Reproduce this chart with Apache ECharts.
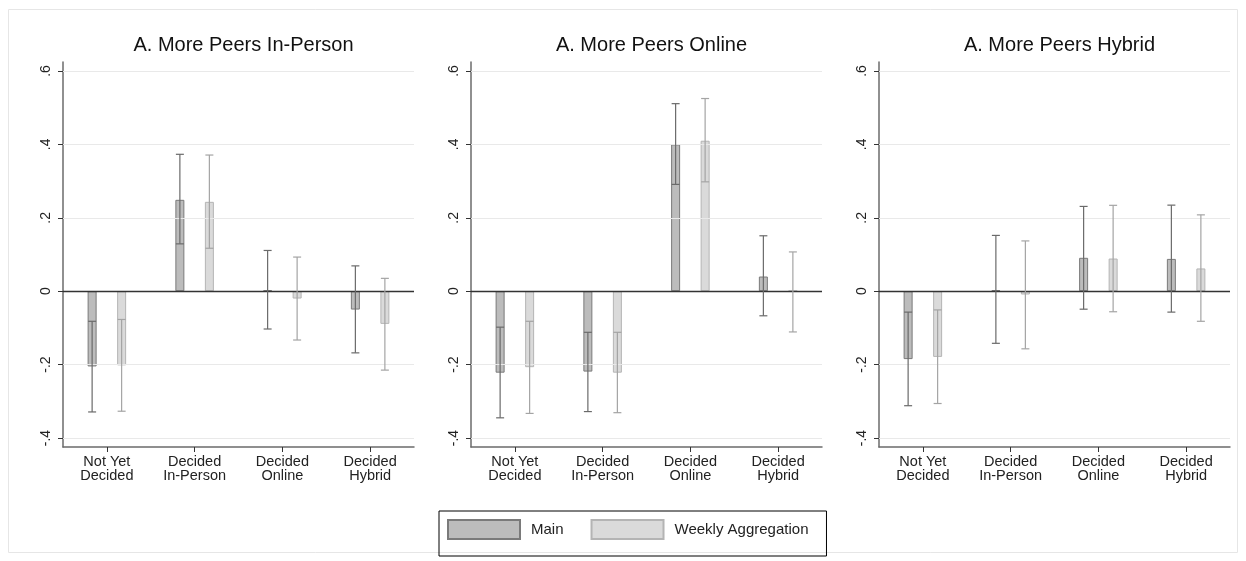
<!DOCTYPE html>
<html>
<head>
<meta charset="utf-8">
<script src="https://cdn.jsdelivr.net/npm/echarts@6/dist/echarts.min.js"></script>
<style>
html,body{margin:0;padding:0;background:#fff;}
#chart{width:1246px;height:561px;}
</style>
</head>
<body>
<div id="chart"></div>
<script>
// ---- data ----
const categories = ['Not Yet\nDecided', 'Decided\nIn-Person', 'Decided\nOnline', 'Decided\nHybrid'];
const panelTitles = ['A. More Peers In-Person', 'A. More Peers Online', 'A. More Peers Hybrid'];
const seriesNames = ['Main', 'Weekly Aggregation'];
const yTicks = [-0.4, -0.2, 0, 0.2, 0.4, 0.6];
const yTickLabels = ['-.4', '-.2', '0', '.2', '.4', '.6'];

// Panel 1: More Peers In-Person
const mainEst1 = [-0.205, 0.249, 0.003, -0.050];
const mainLo1  = [-0.329, 0.129, -0.103, -0.168];
const mainHi1  = [-0.082, 0.373, 0.111, 0.069];
const weekEst1 = [-0.202, 0.2435, -0.020, -0.089];
const weekLo1  = [-0.327, 0.117, -0.133, -0.215];
const weekHi1  = [-0.077, 0.371, 0.093, 0.035];

// Panel 2: More Peers Online
const mainEst2 = [-0.222, -0.219, 0.400, 0.040];
const mainLo2  = [-0.345, -0.328, 0.291, -0.067];
const mainHi2  = [-0.098, -0.112, 0.511, 0.151];
const weekEst2 = [-0.207, -0.222, 0.410, 0.001];
const weekLo2  = [-0.333, -0.331, 0.298, -0.111];
const weekHi2  = [-0.082, -0.112, 0.525, 0.107];

// Panel 3: More Peers Hybrid
const mainEst3 = [-0.185, 0.003, 0.091, 0.088];
const mainLo3  = [-0.312, -0.142, -0.049, -0.057];
const mainHi3  = [-0.057, 0.152, 0.231, 0.2345];
const weekEst3 = [-0.179, -0.009, 0.089, 0.062];
const weekLo3  = [-0.306, -0.157, -0.056, -0.082];
const weekHi3  = [-0.051, 0.137, 0.234, 0.208];

// ---- build ----
const panels = [
  {main: [mainEst1, mainLo1, mainHi1], week: [weekEst1, weekLo1, weekHi1]},
  {main: [mainEst2, mainLo2, mainHi2], week: [weekEst2, weekLo2, weekHi2]},
  {main: [mainEst3, mainLo3, mainHi3], week: [weekEst3, weekLo3, weekHi3]}
];

const FONT = '"Liberation Sans", Arial, Helvetica, sans-serif';
const gridLeft = [63, 471, 879];
const gridWidth = 351;
const gridTop = 62;
const gridHeight = 385;

const styles = {
  main: {fill: '#bcbcbc', border: '#7a7a7a', err: '#6a6a6a', offset: -14.75},
  week: {fill: '#dadada', border: '#b4b4b4', err: '#a4a4a4', offset: 14.75}
};

const labelMap = {};
yTicks.forEach((v, i) => { labelMap[v.toFixed(1)] = yTickLabels[i]; });

const grid = [], xAxis = [], yAxis = [], title = [], series = [];

panels.forEach((p, gi) => {
  grid.push({left: gridLeft[gi], top: gridTop, width: gridWidth, height: gridHeight, containLabel: false});
  title.push({
    text: panelTitles[gi], left: gridLeft[gi] + gridWidth / 2, top: 30, textAlign: 'center',
    textStyle: {fontSize: 20, fontWeight: 'normal', color: '#111', fontFamily: FONT}
  });
  xAxis.push({
    type: 'category', gridIndex: gi, data: categories,
    axisLine: {show: true, onZero: false, lineStyle: {color: '#6b6b6b', width: 1.5}},
    axisTick: {show: true, alignWithLabel: true, length: 5, lineStyle: {color: '#333'}},
    axisLabel: {interval: 0, fontSize: 14.5, lineHeight: 14, color: '#222', margin: 8, fontFamily: FONT},
    splitLine: {show: false}
  });
  yAxis.push({
    type: 'value', gridIndex: gi, min: -0.4245, max: 0.6245,
    axisLine: {show: true, lineStyle: {color: '#6b6b6b', width: 1.5}},
    axisTick: {show: true, length: 5, customValues: yTicks, lineStyle: {color: '#333'}},
    axisLabel: {
      customValues: yTicks, rotate: 90, fontSize: 14, color: '#222', margin: 10, fontFamily: FONT,
      formatter: v => labelMap[Number(v).toFixed(1)] || ''
    },
    splitLine: {show: false}
  });

  ['main', 'week'].forEach((key, si) => {
    const st = styles[key];
    const [est, lo, hi] = p[key];
    const bar = {
      type: 'bar', name: seriesNames[si], xAxisIndex: gi, yAxisIndex: gi,
      data: est, barWidth: 9, barGap: '228%', z: 3,
      itemStyle: {color: st.fill, borderColor: st.border, borderWidth: 1},
      emphasis: {disabled: true}, silent: true
    };
    if (si === 0) {
      bar.markLine = {
        silent: true, symbol: 'none', label: {show: false}, animation: false,
        data: yTicks.map(v => ({
          yAxis: v,
          lineStyle: v === 0 ? {color: '#333', width: 1.3, type: 'solid'} : {color: '#e9e9e9', width: 1, type: 'solid'}
        }))
      };
    }
    series.push(bar);
    series.push({
      type: 'custom', name: seriesNames[si] + ' CI', xAxisIndex: gi, yAxisIndex: gi, z: 5, silent: true,
      data: est.map((_, i) => [i, lo[i], hi[i]]),
      encode: {x: 0, y: [1, 2]},
      renderItem: (params, api) => {
        const top = api.coord([api.value(0), api.value(2)]);
        const bot = api.coord([api.value(0), api.value(1)]);
        const x = top[0] + st.offset;
        const cw = 4;
        const ls = {stroke: st.err, lineWidth: 1.2};
        return {
          type: 'group',
          children: [
            {type: 'line', shape: {x1: x, y1: top[1], x2: x, y2: bot[1]}, style: ls},
            {type: 'line', shape: {x1: x - cw, y1: top[1], x2: x + cw, y2: top[1]}, style: ls},
            {type: 'line', shape: {x1: x - cw, y1: bot[1], x2: x + cw, y2: bot[1]}, style: ls}
          ]
        };
      }
    });
  });
});

const chart = echarts.init(document.getElementById('chart'), null, {renderer: 'canvas'});
chart.setOption({
  animation: false,
  backgroundColor: '#fff',
  title: title,
  grid: grid,
  xAxis: xAxis,
  yAxis: yAxis,
  legend: {
    data: seriesNames, left: 439, top: 511, orient: 'horizontal',
    itemWidth: 72, itemHeight: 19, itemGap: 27, icon: 'rect', selectedMode: false,
    padding: [8, 18, 16, 8], borderColor: '#000', borderWidth: 1,
    textStyle: {fontSize: 15, color: '#222', fontFamily: FONT, padding: [2, 0, 0, 6]}
  },
  graphic: [{
    type: 'rect', silent: true, z: -1,
    shape: {x: 8.5, y: 9.5, width: 1229, height: 543},
    style: {fill: 'none', stroke: '#e6e6e6', lineWidth: 1}
  }],
  series: series
});
</script>
</body>
</html>
